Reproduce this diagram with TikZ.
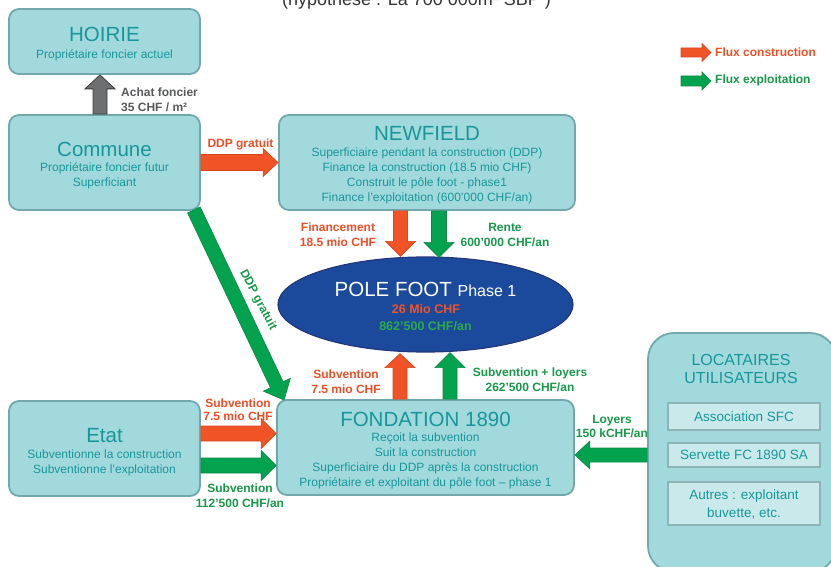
\documentclass[tikz,border=0pt]{standalone}
\usepackage{fontspec}
\setmainfont{Liberation Sans}
\usetikzlibrary{calc,shapes.geometric}
\definecolor{boxfill}{HTML}{A2D9DD}
\definecolor{boxline}{HTML}{72A8AC}
\definecolor{tealtxt}{HTML}{17979A}
\definecolor{innerfill}{HTML}{C9E9EB}
\definecolor{innerline}{HTML}{8CB3B6}
\definecolor{orangeA}{HTML}{F05326}
\definecolor{orangeB}{HTML}{D9461E}
\definecolor{orangeT}{HTML}{EE4E26}
\definecolor{greenA}{HTML}{02A24F}
\definecolor{greenB}{HTML}{0B8A44}
\definecolor{greenT}{HTML}{17984A}
\definecolor{grayA}{HTML}{6E6F71}
\definecolor{grayB}{HTML}{3C3C3C}
\definecolor{grayT}{HTML}{58595B}
\definecolor{poleblue}{HTML}{1B4A9C}
\definecolor{poleline}{HTML}{24367C}
\definecolor{polegreen}{HTML}{2DA84B}
\newcommand\blockarrow[6]{%
  \coordinate (bahead) at ($(#3)!#6!(#2)$);
  \draw[#1] ($(#2)!#4!90:(#3)$) -- ($(bahead)!#4!90:(#3)$) -- ($(bahead)!#5!90:(#3)$) -- (#3)
    -- ($(bahead)!#5!-90:(#3)$) -- ($(bahead)!#4!-90:(#3)$) -- ($(#2)!#4!-90:(#3)$) -- cycle;}
\tikzset{
  box/.style={draw=boxline, fill=boxfill, line width=1.8pt, rounded corners=10pt, inner sep=0pt},
  innerbox/.style={draw=innerline, fill=innerfill, line width=2.2pt, inner sep=0pt, minimum width=152pt},
  ttl/.style={text=tealtxt, font=\fontsize{20.5}{24}\selectfont, inner sep=0pt, anchor=base},
  sub/.style={text=tealtxt, font=\fontsize{12}{15}\selectfont, align=center, inner sep=0pt},
  lbl/.style={font=\bfseries\fontsize{12}{15}\selectfont, align=center, inner sep=0pt},
  olbl/.style={lbl, text=orangeT},
  glbl/.style={lbl, text=greenT},
  oarrow/.style={fill=orangeA, draw=orangeB, line width=0.6pt},
  garrow/.style={fill=greenA, draw=greenB, line width=0.6pt},
  grarrow/.style={fill=grayA, draw=grayB, line width=0.8pt},
}
\begin{document}
\begin{tikzpicture}[x=1pt,y=-1pt]
\useasboundingbox (0,0) rectangle (831,567);
% title (clipped at top)
\node[anchor=base, font=\fontsize{18}{20}\selectfont, text=black!80, inner sep=0pt] (titre) at (416.5,6) {(hypothèse : La 700 000m² SBP )};
% boxes
\node[box, minimum width=191pt, minimum height=65pt] (hoirie) at (104.5,41.5) {};
\node[box, minimum width=191pt, minimum height=95pt] (commune) at (104.5,162.5) {};
\node[box, minimum width=296pt, minimum height=95pt] (newfield) at (427,162.5) {};
\node[box, minimum width=191pt, minimum height=95pt] (etat) at (104.5,448.5) {};
\node[box, minimum width=297pt, minimum height=95pt] (fondation) at (425.5,447.5) {};
\node[box, rounded corners=26pt, minimum width=188pt, minimum height=239pt] (locataires) at (742,452.5) {};
\node[innerbox, minimum height=27pt] (asso) at (744,416.5) {};
\node[innerbox, minimum height=24pt] (servette) at (744,455) {};
\node[innerbox, minimum height=43pt] (autres) at (744,503.5) {};
\node[ellipse, draw=poleline, fill=poleblue, line width=1.2pt, minimum width=295pt, minimum height=95pt, inner sep=0pt] (pole) at (425.5,304.5) {};
% box texts
\node[ttl] (hoirieT) at (104.5,42) {HOIRIE};
\node[sub] (hoirieS) at (104.5,55) {Propriétaire foncier actuel};
\node[ttl] (communeT) at (104.5,157) {Commune};
\node[sub] (communeS) at (104.5,175.5) {Propriétaire foncier futur\\Superficiant};
\node[ttl] (newfieldT) at (427,141) {NEWFIELD};
\node[sub] (newfieldS) at (427,175.5) {Superficiaire pendant la construction (DDP)\\Finance la construction (18.5 mio CHF)\\Construit le pôle foot - phase1\\Finance l'exploitation (600'000 CHF/an)};
\node[ttl] (etatT) at (104.5,442) {Etat};
\node[sub] (etatS) at (104.5,462.5) {Subventionne la construction\\Subventionne l'exploitation};
\node[ttl] (fondationT) at (425.5,426) {FONDATION 1890};
\node[sub] (fondationS) at (425.5,460.5) {Reçoit la subvention\\Suit la construction\\Superficiaire du DDP après la construction\\Propriétaire et exploitant du pôle foot – phase 1};
\node[ttl, font=\fontsize{16}{19}\selectfont] (locT1) at (741,365) {LOCATAIRES};
\node[ttl, font=\fontsize{16}{19}\selectfont] (locT2) at (741,383) {UTILISATEURS};
\node[sub, font=\fontsize{13.5}{18}\selectfont] (assoT) at (744,416.5) {Association SFC};
\node[sub, font=\fontsize{13.5}{18}\selectfont] (servetteT) at (744,455) {Servette FC 1890 SA};
\node[sub, font=\fontsize{13.5}{18}\selectfont] (autresT) at (744,504) {Autres : exploitant\\buvette, etc.};
\node[anchor=base, text=white, inner sep=0pt, font=\fontsize{20.5}{24}\selectfont] (poleT) at (425.5,297) {POLE FOOT {\fontsize{16}{18}\selectfont Phase 1}};
\node[lbl, text=orangeA, font=\bfseries\fontsize{12.5}{15}\selectfont] (poleC) at (426,309.5) {26 Mio CHF};
\node[lbl, text=polegreen, font=\bfseries\fontsize{12.5}{15}\selectfont] (poleE) at (425.5,326.5) {862'500 CHF/an};
% arrows
\coordinate (gA) at ([xshift=-4.5pt]commune.north);
\coordinate (gB) at ([xshift=-4.5pt]hoirie.south);
\blockarrow{grarrow}{gA}{gB}{7pt}{15pt}{14pt}
\blockarrow{oarrow}{commune.east}{newfield.west}{8pt}{14pt}{15pt}
\coordinate (fA) at ([xshift=-26.5pt]newfield.south);
\coordinate (fB) at (fA |- pole.north);
\blockarrow{oarrow}{fA}{fB}{7pt}{15pt}{15pt}
\coordinate (rA) at ([xshift=12pt]newfield.south);
\coordinate (rB) at ($(rA |- pole.north)+(0,1)$);
\blockarrow{garrow}{rA}{rB}{7.5pt}{15pt}{15pt}
\coordinate (sA) at ([xshift=-25.5pt]fondation.north);
\coordinate (sB) at ($(sA |- pole.south)+(0,1)$);
\blockarrow{oarrow}{sA}{sB}{7pt}{15pt}{14pt}
\coordinate (tA) at ([xshift=24.5pt]fondation.north);
\coordinate (tB) at (tA |- pole.south);
\blockarrow{garrow}{tA}{tB}{7pt}{15pt}{15pt}
\coordinate (eA) at ([yshift=15pt]etat.east);
\coordinate (eB) at (eA -| fondation.west);
\blockarrow{oarrow}{eA}{eB}{7.5pt}{15pt}{15pt}
\coordinate (eC) at ([yshift=-17pt]etat.east);
\coordinate (eD) at (eC -| fondation.west);
\blockarrow{garrow}{eC}{eD}{7.5pt}{15pt}{15pt}
\coordinate (lA) at (locataires.west |- 0,455);
\coordinate (lB) at (lA -| fondation.east);
\blockarrow{garrow}{lA}{lB}{7pt}{14pt}{15pt}
\coordinate (dA) at ([xshift=-7pt,yshift=1pt]commune.south east);
\coordinate (dB) at ([xshift=8pt,yshift=-1pt]fondation.north west);
\blockarrow{garrow}{dA}{dB}{7pt}{15pt}{17pt}
% legend
\coordinate (lc1) at (681,52.5);
\coordinate (lc2) at (711,52.5);
\blockarrow{oarrow}{lc1}{lc2}{4.5pt}{9pt}{9pt}
\coordinate (le1) at (681,81);
\coordinate (le2) at (711,81);
\blockarrow{garrow}{le1}{le2}{5pt}{9pt}{9pt}
\node[lbl, text=orangeT, anchor=west, font=\bfseries\fontsize{12}{14}\selectfont] (legC) at (715,52) {Flux construction};
\node[lbl, text=greenT, anchor=west, font=\bfseries\fontsize{12}{14}\selectfont] (legE) at (715,80.5) {Flux exploitation};
% labels
\node[lbl, text=grayT, align=left, anchor=west] (achatL) at (121,99.5) {Achat foncier\\35 CHF / m²};
\node[olbl] (ddpL) at (240.5,144) {DDP gratuit};
\node[olbl] (finL) at (338,234.5) {Financement\\18.5 mio CHF};
\node[glbl] (renteL) at (505,234.5) {Rente\\600'000 CHF/an};
\node[olbl] (subL) at (346,381.5) {Subvention\\7.5 mio CHF};
\node[glbl] (subloyL) at (530,380) {Subvention + loyers\\262'500 CHF/an};
\node[olbl, font=\bfseries\fontsize{12}{13.5}\selectfont] (etatOL) at (238,409.5) {Subvention\\7.5 mio CHF};
\node[glbl] (etatGL) at (240,495.5) {Subvention\\112'500 CHF/an};
\node[glbl, font=\bfseries\fontsize{12}{13.5}\selectfont] (loyersL) at (612,426.5) {Loyers\\150 kCHF/an};
\node[glbl, rotate=-62] (ddpdL) at (258,300) {DDP gratuit};
\end{tikzpicture}
\end{document}
